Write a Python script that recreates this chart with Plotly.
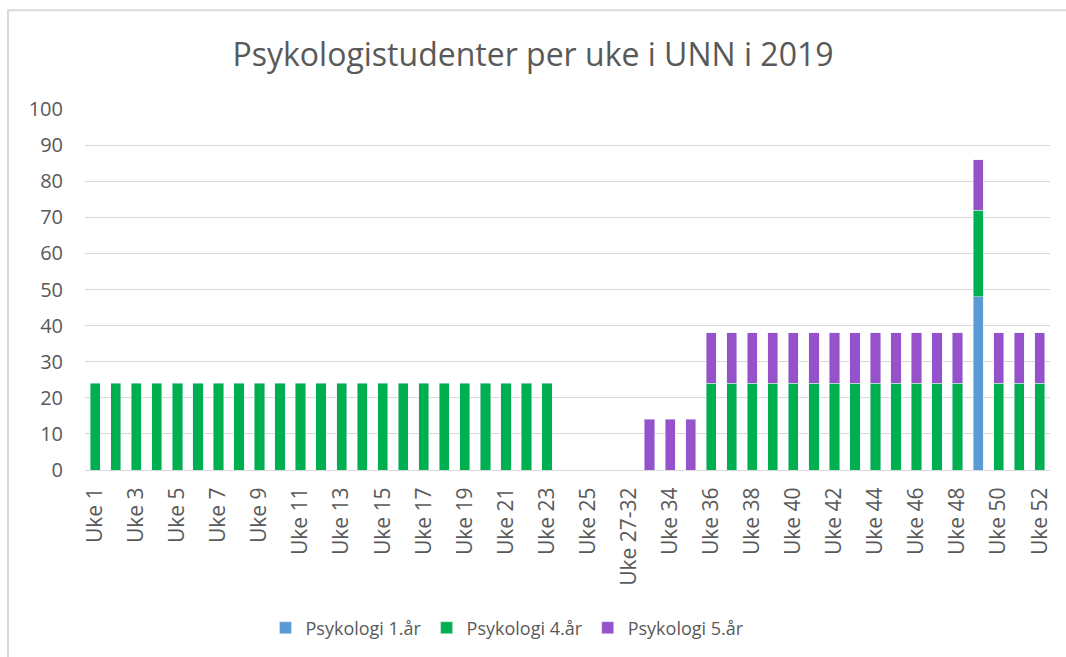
import plotly.graph_objects as go

categories = [f"Uke {i}" for i in range(1, 27)] + ["Uke 27-32"] + [f"Uke {i}" for i in range(33, 53)]

# values per category (None = no bar)
psyk1 = [None] * 43 + [48] + [None] * 3
psyk4 = [24] * 23 + [None] * 4 + [None] * 3 + [24] * 17
psyk5 = [None] * 27 + [14] * 3 + [14] * 17

tick_labels = categories[::2]

fig = go.Figure()
fig.add_trace(go.Bar(x=categories, y=psyk1, name="Psykologi 1.år", marker_color="#5B9BD5"))
fig.add_trace(go.Bar(x=categories, y=psyk4, name="Psykologi 4.år", marker_color="#00B050"))
fig.add_trace(go.Bar(x=categories, y=psyk5, name="Psykologi 5.år", marker_color="#9652CA"))

W, H = 1066, 657
L, R, T, B = 85, 16, 109, 186
pw, ph = W - L - R, H - T - B

def px_x(p):
    return (p - L) / pw

def px_y(p):
    return (H - B - p) / ph

fig.update_layout(
    width=W, height=H,
    barmode="stack",
    bargap=0.5,
    plot_bgcolor="white",
    paper_bgcolor="white",
    margin=dict(l=L, r=R, t=T, b=B),
    font=dict(family="Open Sans, Liberation Sans, sans-serif", color="#595959", size=16),
    title=dict(text="Psykologistudenter per uke i UNN i 2019", x=0.5, xanchor="center",
               y=1 - 55 / H, yanchor="middle",
               font=dict(size=32, color="#595959")),
    legend=dict(orientation="h", x=0.5 - 60 / pw, xanchor="center", y=px_y(628), yanchor="middle",
                font=dict(size=18, color="#595959"), traceorder="normal"),
    showlegend=True,
    shapes=[dict(type="rect", xref="paper", yref="paper",
                 x0=px_x(8), x1=px_x(1075), y0=px_y(670), y1=px_y(10),
                 line=dict(color="#D9D9D9", width=2), fillcolor="rgba(0,0,0,0)", layer="below")],
)
fig.update_xaxes(
    type="category", categoryorder="array", categoryarray=categories,
    tickmode="array", tickvals=tick_labels, ticktext=tick_labels,
    tickangle=-90, tickfont=dict(size=21, color="#595959"),
    showline=True, linecolor="#D9D9D9", linewidth=1, ticks="",
    showgrid=False, ticklabelstandoff=8,
)
fig.update_yaxes(
    range=[0, 100], dtick=10, tickfont=dict(size=20, color="#595959"),
    showgrid=True, gridcolor="#D9D9D9", gridwidth=1, zeroline=False,
    ticks="", ticklabelstandoff=21,
)

fig.write_html("out.html", post_script="document.body.style.margin='0';",
               config={"displayModeBar": False})
